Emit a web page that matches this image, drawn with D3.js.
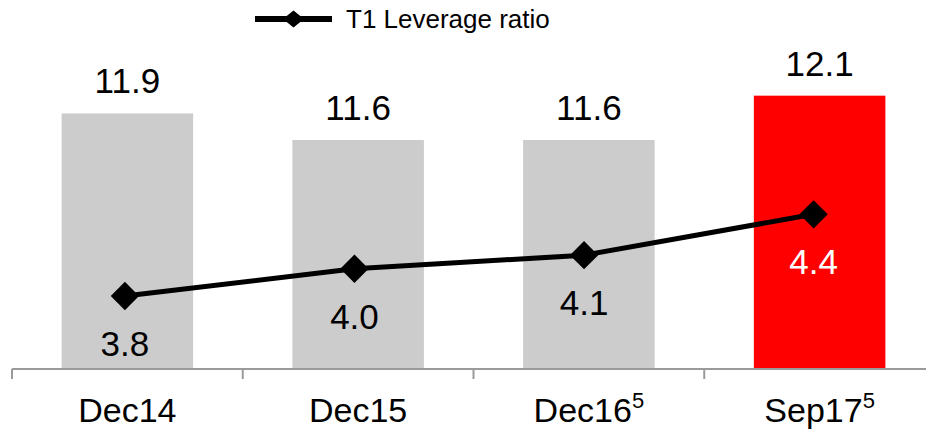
<!DOCTYPE html>
<html>
<head>
<meta charset="utf-8">
<script src="https://cdn.jsdelivr.net/npm/d3@7"></script>
<style>
  html, body { margin: 0; padding: 0; background: #ffffff; }
  svg { display: block; font-family: "Liberation Sans", Arial, sans-serif; }
</style>
</head>
<body>
<svg id="chart" width="926" height="429"></svg>
<script>
// Categories (with optional superscript footnote) and series values
const categories = ["Dec14", "Dec15", "Dec16", "Sep17"];
const footnotes = ["", "", "5", "5"];
const barValues = [11.9, 11.6, 11.6, 12.1];
const leverageValues = [3.8, 4.0, 4.1, 4.4];
const barColors = ["#cccccc", "#cccccc", "#cccccc", "#ff0000"];
const lineLabelColors = ["#000000", "#000000", "#000000", "#ffffff"];
const legendLabel = "T1 Leverage ratio";

const svg = d3.select("#chart");
const baseY = 369;
const topY = 14.6;

// Category scale for bars
const x = d3.scaleBand()
  .domain(categories)
  .range([12, 935])
  .paddingInner(0.43)
  .paddingOuter(0.215);

// Category slots (no padding) used for axis ticks
const xSlot = d3.scaleBand().domain(categories).range([12, 935]).padding(0);

// Primary (bars) and secondary (line) value scales
const yBar = d3.scaleLinear().domain([9.015, 13.015]).range([baseY, topY]);
const yLine = d3.scaleLinear().domain([3.264, 5.866]).range([baseY, topY]);

// Line points sit on a slightly narrower category axis
const xLine = d3.scalePoint()
  .domain(categories)
  .range([x(categories[0]) + x.bandwidth() / 2 - 2.5,
          x(categories[categories.length - 1]) + x.bandwidth() / 2 - 6]);

// Bars
svg.append("g").selectAll("rect")
  .data(categories)
  .join("rect")
  .attr("x", d => x(d))
  .attr("width", x.bandwidth())
  .attr("y", (d, i) => yBar(barValues[i]))
  .attr("height", (d, i) => baseY - yBar(barValues[i]))
  .attr("fill", (d, i) => barColors[i]);

// Bar value labels
svg.append("g").selectAll("text")
  .data(categories)
  .join("text")
  .attr("x", d => x(d) + x.bandwidth() / 2)
  .attr("y", (d, i) => yBar(barValues[i]) - 20)
  .attr("text-anchor", "middle")
  .attr("font-size", 35)
  .attr("fill", "#000")
  .text((d, i) => barValues[i].toFixed(1));

// Category axis
const axis = svg.append("g");
axis.append("line")
  .attr("x1", 12).attr("x2", 926)
  .attr("y1", baseY).attr("y2", baseY)
  .attr("stroke", "#9a9a9a").attr("stroke-width", 2);
axis.selectAll("line.tick")
  .data(categories)
  .join("line")
  .attr("class", "tick")
  .attr("x1", d => xSlot(d)).attr("x2", d => xSlot(d))
  .attr("y1", baseY).attr("y2", baseY + 10)
  .attr("stroke", "#9a9a9a").attr("stroke-width", 2);

const catLabels = axis.selectAll("text")
  .data(categories)
  .join("text")
  .attr("x", d => x(d) + x.bandwidth() / 2)
  .attr("y", 421.5)
  .attr("text-anchor", "middle")
  .attr("font-size", 34)
  .attr("fill", "#000");
catLabels.append("tspan").text(d => d);
catLabels.filter((d, i) => footnotes[i] !== "")
  .append("tspan")
  .attr("font-size", 22)
  .attr("dy", -14)
  .text(d => footnotes[categories.indexOf(d)]);

// Leverage ratio line
const line = d3.line()
  .x((d, i) => xLine(categories[i]))
  .y(d => yLine(d));
svg.append("path")
  .datum(leverageValues)
  .attr("d", line)
  .attr("fill", "none")
  .attr("stroke", "#000")
  .attr("stroke-width", 5)
  .attr("stroke-linejoin", "round");

// Diamond markers
const diamond = d3.symbol().type(d3.symbolSquare).size(400);
svg.append("g").selectAll("path")
  .data(leverageValues)
  .join("path")
  .attr("d", diamond)
  .attr("transform", (d, i) => `translate(${xLine(categories[i])},${yLine(d)}) rotate(45)`)
  .attr("fill", "#000");

// Line value labels
svg.append("g").selectAll("text")
  .data(leverageValues)
  .join("text")
  .attr("x", (d, i) => xLine(categories[i]))
  .attr("y", d => yLine(d) + 60)
  .attr("text-anchor", "middle")
  .attr("font-size", 35)
  .attr("fill", (d, i) => lineLabelColors[i])
  .text(d => d.toFixed(1));

// Legend
const legend = svg.append("g");
legend.append("line")
  .attr("x1", 255).attr("x2", 332)
  .attr("y1", 19).attr("y2", 19)
  .attr("stroke", "#000").attr("stroke-width", 6);
legend.append("path")
  .attr("d", "M283,19 L293.5,10.5 L304,19 L293.5,27.5 Z")
  .attr("fill", "#000");
legend.append("text")
  .attr("x", 346)
  .attr("y", 27.5)
  .attr("font-size", 26)
  .attr("fill", "#000")
  .text(legendLabel);
</script>
</body>
</html>
